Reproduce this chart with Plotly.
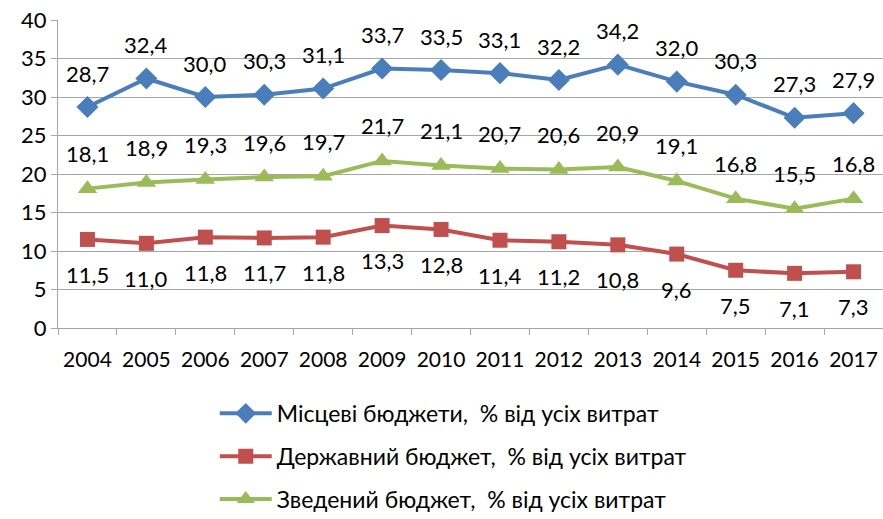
import plotly.graph_objects as go

years = [str(y) for y in range(2004, 2018)]
local = [28.7, 32.4, 30.0, 30.3, 31.1, 33.7, 33.5, 33.1, 32.2, 34.2, 32.0, 30.3, 27.3, 27.9]
state = [11.5, 11.0, 11.8, 11.7, 11.8, 13.3, 12.8, 11.4, 11.2, 10.8, 9.6, 7.5, 7.1, 7.3]
consolidated = [18.1, 18.9, 19.3, 19.6, 19.7, 21.7, 21.1, 20.7, 20.6, 20.9, 19.1, 16.8, 15.5, 16.8]
names = ["Місцеві бюджети, \u00a0% від усіх витрат",
         "Державний бюджет, \u00a0% від усіх витрат",
         "Зведений бюджет, \u00a0% від усіх витрат"]
yticks = [0, 5, 10, 15, 20, 25, 30, 35, 40]

FONT = "Lato"
FS = 22

series = [
    (local, names[0], "#4a7ebb", "diamond", 17, 34),
    (state, names[1], "#c0504d", "square", 15, -35),
    (consolidated, names[2], "#9bbb59", "triangle-up", 17, 35),
]

fig = go.Figure()
annotations = []
for i, (vals, name, color, sym, msize, shift) in enumerate(series):
    fig.add_trace(go.Scatter(
        x=years, y=vals, name=name, mode="lines+markers",
        line=dict(color=color, width=4),
        marker=dict(symbol=sym, size=msize, color=color),
        legendgroup=str(i),
    ))
    for j, v in enumerate(vals):
        annotations.append(dict(
            x=j, y=v, xref="x", yref="y",
            text=f"{v:.1f}".replace(".", ","), showarrow=False,
            yshift=shift, font=dict(family=FONT, size=FS, color="#000000"),
        ))

fig.update_layout(
    width=883, height=519,
    margin=dict(l=58, r=0, t=20, b=191),
    paper_bgcolor="white", plot_bgcolor="white",
    font=dict(family=FONT, size=FS, color="#000000"),
    annotations=annotations,
    showlegend=True,
    legend=dict(
        orientation="v", x=0.19, xanchor="left",
        yref="container", y=0.245, yanchor="top",
        font=dict(family=FONT, size=23, color="#000000"),
        traceorder="grouped", tracegroupgap=10, itemwidth=52,
        bgcolor="rgba(0,0,0,0)",
    ),
)
fig.update_xaxes(
    type="category", showgrid=False, showline=True, linecolor="#a6a6a6", linewidth=1,
    ticks="outside", tickson="boundaries", ticklen=6, tickcolor="#a6a6a6",
    tickfont=dict(family=FONT, size=21), range=[-0.5, 13.5], ticklabelstandoff=13,
    tickangle=0,
)
fig.update_yaxes(
    range=[0, 40], tickvals=yticks, showgrid=True, gridcolor="#a6a6a6", gridwidth=1,
    showline=True, linecolor="#a6a6a6", linewidth=1, ticks="outside", ticklen=6,
    tickcolor="#a6a6a6", tickfont=dict(family=FONT, size=FS), zeroline=False,
)
fig.write_html("out.html", config={"displayModeBar": False},
               post_script="document.body.style.margin='0px';")
